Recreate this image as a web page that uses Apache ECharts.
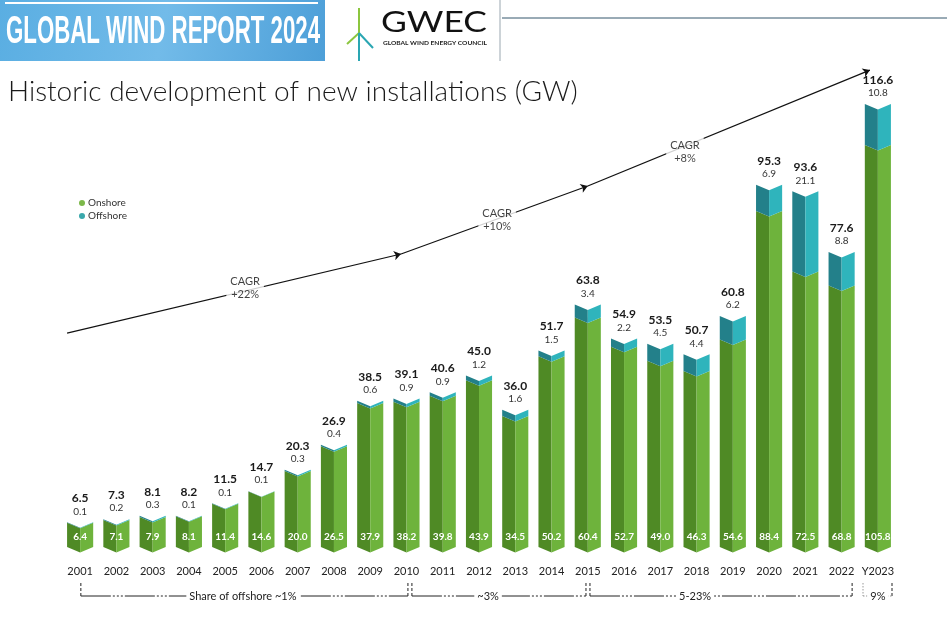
<!DOCTYPE html>
<html><head><meta charset="utf-8">
<script src="https://cdn.jsdelivr.net/npm/echarts@6/dist/echarts.min.js"></script>
<style>html,body{margin:0;padding:0;background:#fff}#c{width:947px;height:617px}</style>
</head><body><div id="c"></div>
<script>
const years = ['2001','2002','2003','2004','2005','2006','2007','2008','2009','2010','2011','2012','2013','2014','2015','2016','2017','2018','2019','2020','2021','2022','Y2023'];
const onshore = [6.4,7.1,7.9,8.1,11.4,14.6,20.0,26.5,37.9,38.2,39.8,43.9,34.5,50.2,60.4,52.7,49.0,46.3,54.6,88.4,72.5,68.8,105.8];
const offshore = [0.1,0.2,0.3,0.1,0.1,0.1,0.3,0.4,0.6,0.9,0.9,1.2,1.6,1.5,3.4,2.2,4.5,4.4,6.2,6.9,21.1,8.8,10.8];
const totals = [6.5,7.3,8.1,8.2,11.5,14.7,20.3,26.9,38.5,39.1,40.6,45.0,36.0,51.7,63.8,54.9,53.5,50.7,60.8,95.3,93.6,77.6,116.6];
// CAGR arrows: [x (category position), y (GW)] start and end
const cagrArrows = [
  [[-0.36, 56.3], [8.85, 77.1]],
  [[8.85, 77.1], [14.0, 95.0]],
  [[14.0, 95.0], [21.78, 125.5]]
];
const cagrLabels = [
  ['CAGR\n+22%', 4.55, 68.2],
  ['CAGR\n+10%', 11.5, 86.0],
  ['CAGR\n+8%', 16.68, 103.9]
];
// share-of-offshore brackets: [start, end, label, label position]
const shareBrackets = [
  [0.02, 9.04, 'Share of offshore ~1%', 4.49],
  [9.15, 13.95, '~3%', 11.25],
  [14.06, 21.29, '5-23%', 16.96],
  [21.59, 22.39, '9%', 22.0]
];

const FONT = 'Lato, "Noto Sans", sans-serif';
const chart = echarts.init(document.getElementById('c'));

function textWidth(txt, font) {
  const ctx = document.createElement('canvas').getContext('2d');
  ctx.font = font;
  return ctx.measureText(txt).width;
}
const bannerText = 'GLOBAL WIND REPORT 2024';
const bannerFont = 'bold 38px "Liberation Sans", Arial, sans-serif';
const bannerScale = 314 / textWidth(bannerText, bannerFont);
const logoFont = '29px ' + FONT;
const logoScale = 106 / textWidth('GWEC', logoFont);
const smallFont = 'bold 6px ' + FONT;
const smallScale = 104 / textWidth('GLOBAL WIND ENERGY COUNCIL', smallFont);

function halves(cx, hw, yTop, yBot, d, dark, light) {
  return [
    {type:'polygon', shape:{points:[[cx-hw,yTop],[cx,yTop+d],[cx,yBot+d],[cx-hw,yBot]]}, style:{fill:dark}},
    {type:'polygon', shape:{points:[[cx,yTop+d],[cx+hw,yTop],[cx+hw,yBot],[cx,yBot+d]]}, style:{fill:light}}
  ];
}

function renderOn(params, api) {
  const i = api.value(0), lo = api.value(1), hi = api.value(2);
  const pT = api.coord([i, hi]), pB = api.coord([i, lo]);
  const hw = api.size([1, 0])[0] * 0.36;
  const ch = halves(pT[0], hw, pT[1], pB[1], 5.5, '#4f8a25', '#6eb33c');
  ch.push({type:'text', x:pT[0], y:pB[1]-10, style:{text:hi.toFixed(1), fill:'#fff', font:'bold 10px ' + FONT, align:'center', verticalAlign:'middle'}});
  return {type:'group', children:ch};
}
function renderOff(params, api) {
  const i = api.value(0), lo = api.value(1), hi = api.value(2), off = api.value(3), tot = api.value(4);
  const pT = api.coord([i, hi]), pB = api.coord([i, lo]);
  const hw = api.size([1, 0])[0] * 0.36;
  const ch = halves(pT[0], hw, pT[1], pB[1], 5.5, '#23808a', '#2fb4bc');
  ch.push({type:'text', x:pT[0], y:pT[1]-11, style:{text:off.toFixed(1), fill:'#333', font:'10px ' + FONT, align:'center', verticalAlign:'middle'}});
  ch.push({type:'text', x:pT[0], y:pT[1]-24, style:{text:tot.toFixed(1), fill:'#1a1a1a', font:'bold 12px ' + FONT, align:'center', verticalAlign:'middle'}});
  return {type:'group', children:ch};
}
function renderBracket(params, api) {
  const s = api.value(0), e = api.value(1), tx = api.value(3);
  const p0 = api.coord([s, 0]), p1 = api.coord([e, 0]), pt = api.coord([tx, 0]);
  const y0 = p0[1] + 36, y1 = p0[1] + 49;
  const last = params.dataIndex === shareBrackets.length - 1;
  const col = '#222';
  const dash = last ? [1.5, 1.5] : [3, 2];
  return {type:'group', children:[
    {type:'line', shape:{x1:p0[0], y1:y0, x2:p0[0], y2:y1}, style:{stroke: last ? '#999' : col, lineWidth:1, lineDash:dash}},
    {type:'line', shape:{x1:p1[0], y1:y0, x2:p1[0], y2:y1}, style:{stroke:col, lineWidth:1, lineDash:[3,2]}},
    {type:'line', shape:{x1:p0[0], y1:y1, x2:p1[0], y2:y1}, style:{stroke: last ? '#999' : col, lineWidth:1, lineDash: last ? [1.5,1.5] : [30,2,2,2,2,2,2,2]}},
    {type:'text', x:pt[0], y:y1, style:{text:shareBrackets[params.dataIndex][2], fill:'#222', font:'11px ' + FONT, align:'center', verticalAlign:'middle', backgroundColor:'#fff', padding:[1,3]}}
  ]};
}

const option = {
  animation: false,
  backgroundColor: '#fff',
  legend: {
    left: 74, top: 193, orient: 'vertical', itemGap: 3, itemWidth: 6, itemHeight: 6,
    icon: 'circle', data: ['Onshore', 'Offshore'],
    textStyle: {fontFamily: FONT, fontSize: 10, color: '#333', padding:[0,0,0,-2]}
  },
  grid: {left: 62, right: 51, top: 53, bottom: 70},
  xAxis: [
    {type: 'category', data: years, axisLine: {show: false}, axisTick: {show: false},
     axisLabel: {margin: 19, fontFamily: FONT, fontSize: 11, color: '#222', interval: 0}},
    {type: 'value', min: -0.5, max: 22.5, show: false}
  ],
  yAxis: {type: 'value', min: 0, max: 130, show: false, splitLine: {show: false}},
  series: [
    {name: 'Onshore', type: 'custom', renderItem: renderOn, itemStyle: {color: '#7cb84a'},
     encode: {x: 0, y: [1, 2]}, data: onshore.map((v, i) => [i, 0, v]), z: 3},
    {name: 'Offshore', type: 'custom', renderItem: renderOff, itemStyle: {color: '#3aa8ac'},
     encode: {x: 0, y: [1, 2]}, data: offshore.map((v, i) => [i, onshore[i], onshore[i] + v, v, totals[i]]), z: 3},
    {type: 'lines', coordinateSystem: 'cartesian2d', xAxisIndex: 1, yAxisIndex: 0, silent: true,
     symbol: ['none', 'arrow'], symbolSize: 7, lineStyle: {color: '#111', width: 1.2, opacity: 1},
     data: cagrArrows.map(a => ({coords: a})), z: 2},
    {type: 'scatter', xAxisIndex: 1, yAxisIndex: 0, symbolSize: 0, silent: true, z: 4,
     data: cagrLabels.map(l => ({name: l[0], value: [l[1], l[2]]})),
     label: {show: true, position: 'inside', formatter: p => p.name, fontFamily: FONT, fontSize: 11,
             lineHeight: 13, color: '#111', backgroundColor: '#fff', padding: [2, 4], align: 'center'}},
    {type: 'custom', xAxisIndex: 1, yAxisIndex: 0, renderItem: renderBracket, clip: false, silent: true,
     encode: {x: 0, y: 4}, data: shareBrackets.map(b => [b[0], b[1], 1, b[3], 0]), z: 3}
  ],
  graphic: [
    {type: 'rect', x: 0, y: 0, shape: {width: 325, height: 61},
     style: {fill: new echarts.graphic.LinearGradient(0, 0, 1, 1, [{offset: 0, color: '#5aaee2'}, {offset: 0.5, color: '#72bbe9'}, {offset: 1, color: '#4d9fd8'}])}},
    {type: 'rect', x: 5, y: 2, shape: {width: 313, height: 2}, style: {fill: '#fff'}},
    {type: 'text', x: 6, y: 33, scaleX: bannerScale, scaleY: 1,
     style: {text: bannerText, fill: '#fff', font: bannerFont, verticalAlign: 'middle'}},
    {type: 'line', shape: {x1: 500, y1: 0, x2: 500, y2: 61}, style: {stroke: '#9aa7b0', lineWidth: 1}},
    {type: 'line', shape: {x1: 502, y1: 18, x2: 947, y2: 18}, style: {stroke: '#35566d', lineWidth: 1}},
    {type: 'line', shape: {x1: 359, y1: 8, x2: 359, y2: 33}, style: {stroke: '#8cc63f', lineWidth: 2}},
    {type: 'line', shape: {x1: 359, y1: 33, x2: 347, y2: 44}, style: {stroke: '#8cc63f', lineWidth: 2}},
    {type: 'line', shape: {x1: 359, y1: 33, x2: 373, y2: 48}, style: {stroke: '#2aa6b2', lineWidth: 2}},
    {type: 'line', shape: {x1: 359, y1: 33, x2: 359, y2: 61}, style: {stroke: '#2aa6b2', lineWidth: 2}},
    {type: 'text', x: 381, y: 23, scaleX: logoScale, style: {text: 'GWEC', fill: '#111', font: logoFont, verticalAlign: 'middle'}},
    {type: 'text', x: 383, y: 43, scaleX: smallScale, style: {text: 'GLOBAL WIND ENERGY COUNCIL', fill: '#222', font: smallFont, verticalAlign: 'middle'}},
    {type: 'text', x: 8, y: 92, style: {text: 'Historic development of new installations (GW)', fill: '#1a1a1a', font: '300 28px ' + FONT, verticalAlign: 'middle'}}
  ]
};
chart.setOption(option);
</script></body></html>
